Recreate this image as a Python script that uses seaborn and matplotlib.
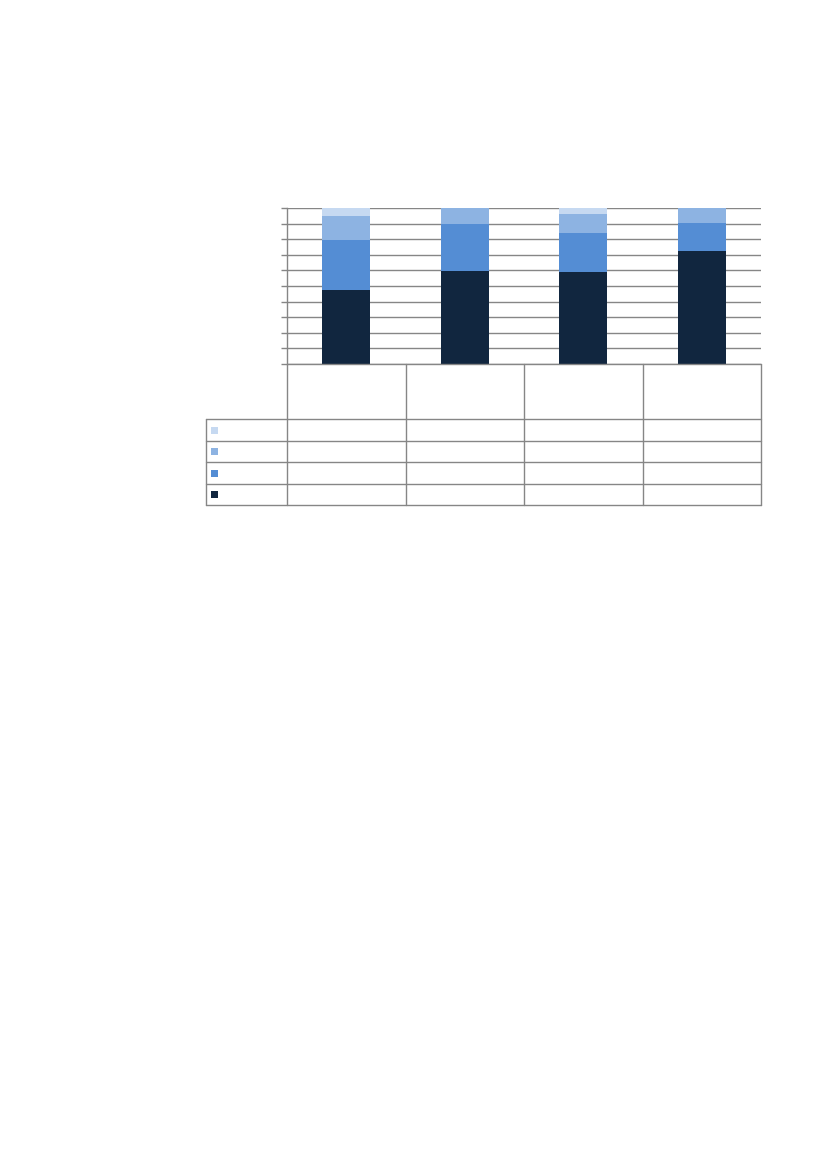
import matplotlib
matplotlib.use("Agg")
import matplotlib.pyplot as plt
import numpy as np
import seaborn as sns

# four categories, four stacked shares (percent), bottom to top
categories = ["1", "2", "3", "4"]
series_1 = [47.4, 59.4, 59.2, 72.4]
series_2 = [32.4, 30.1, 24.8, 18.2]
series_3 = [14.8, 10.5, 12.2, 9.4]
series_4 = [5.4, 0.0, 3.8, 0.0]
series_colors = ["#11263F", "#548DD4", "#8DB3E2", "#C6D9F1"]
y_ticks = list(range(0, 101, 10))

sns.set_style("white")
W, H = 827, 1169
fig = plt.figure(figsize=(W / 100, H / 100), dpi=100)

grid_col = "#868686"
x0, x1, y_top, y_bot = 287, 761, 208, 364
ax = fig.add_axes([x0 / W, 1 - y_bot / H, (x1 - x0) / W, (y_bot - y_top) / H])

stack = np.array([series_1, series_2, series_3, series_4])
cum = np.cumsum(stack, axis=0)
# draw tallest cumulative first so lower layers sit on top
for i in range(3, -1, -1):
    sns.barplot(x=categories, y=cum[i], color=series_colors[i], saturation=1,
                width=0.405, ax=ax, zorder=3, linewidth=0)

ax.set_xlim(-0.5, 3.5)
ax.set_ylim(0, 100)
ax.set_yticks(y_ticks)
ax.set_yticklabels([])
ax.set_xticks([])
ax.set_xlabel("")
ax.set_ylabel("")
ax.yaxis.grid(True, color=grid_col, linewidth=1.0)
ax.set_axisbelow(True)
ax.tick_params(axis="y", left=True, length=4, width=1.0, color=grid_col)
for s in ["top", "right", "bottom"]:
    ax.spines[s].set_visible(False)
ax.spines["left"].set_color(grid_col)
ax.spines["left"].set_linewidth(1.0)

# data table under the chart, drawn in pixel coords
ov = fig.add_axes([0, 0, 1, 1])
ov.set_xlim(0, W)
ov.set_ylim(H, 0)
ov.axis("off")
ov.patch.set_alpha(0)

col_x = [287, 406, 524, 643, 761]
row_y = [419, 441, 462, 484, 505]
lw = 1.0
ov.plot([287, 761], [364, 364], color=grid_col, lw=lw)
for x in col_x:
    ov.plot([x, x], [364, 505], color=grid_col, lw=lw)
ov.plot([206, 206], [419, 505], color=grid_col, lw=lw)
for y in row_y:
    ov.plot([206, 761], [y, y], color=grid_col, lw=lw)

# legend keys in the table rows (top row is the top series)
for k, c in enumerate(reversed(series_colors)):
    yc = (row_y[k] + row_y[k + 1]) / 2
    ov.add_patch(plt.Rectangle((211, yc - 3.5), 7, 7, color=c, lw=0))

fig.savefig("out.png", dpi=100)
